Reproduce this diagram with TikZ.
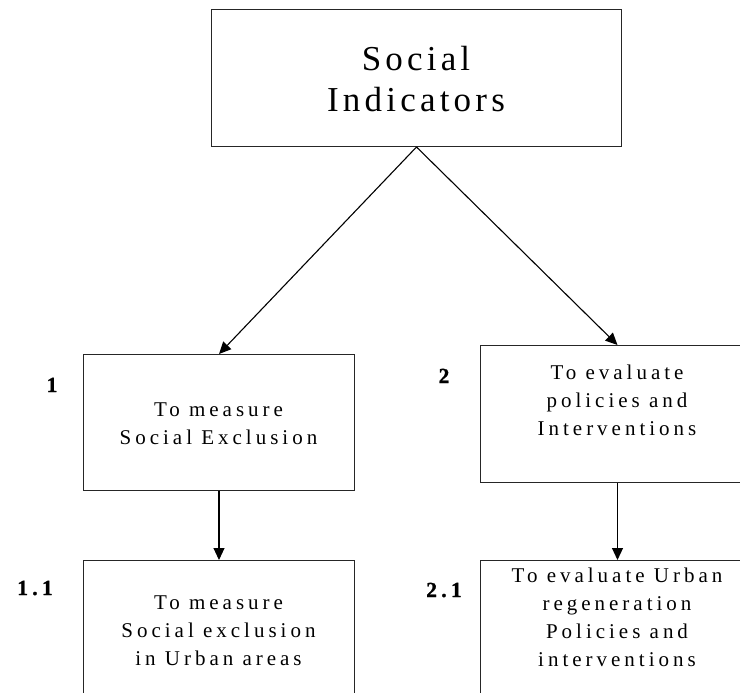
\documentclass[tikz,border=0pt]{standalone}
\usepackage{fontspec}
\setmainfont{Liberation Serif}
\newfontfamily\spacedbig[LetterSpace=12]{Liberation Serif}
\newfontfamily\spacedtxt[LetterSpace=19]{Liberation Serif}
\newfontfamily\spacedlbl[LetterSpace=20,FakeBold=1.2]{Liberation Serif Bold}
\usetikzlibrary{arrows.meta}
\begin{document}
\begin{tikzpicture}[x=1pt,y=-1pt,
  box/.style={draw=black!85,line width=1pt,inner sep=0pt,anchor=north west},
  txt/.style={align=center,inner sep=0pt,anchor=north,font=\spacedtxt\fontsize{21}{28}\selectfont},
  bigtxt/.style={align=center,inner sep=0pt,anchor=north,font=\spacedbig\fontsize{35}{41}\selectfont},
  lbl/.style={anchor=base,inner sep=0pt,font=\spacedlbl\fontsize{21.5}{24}\selectfont},
  arr/.style={draw=black,line width=1.1pt,-{Triangle[length=12pt,width=11pt]}}]
\useasboundingbox (0,0) rectangle (740,693);
\clip (0,0) rectangle (740,693);
% boxes
\node[box,minimum width=410pt,minimum height=137pt] (top) at (211,9) {};
\node[box,minimum width=271pt,minimum height=136pt] (b1) at (83,354) {};
\node[box,minimum width=274pt,minimum height=137pt] (b2) at (480,345) {};
\node[box,minimum width=271pt,minimum height=150pt] (b11) at (83,560) {};
\node[box,minimum width=274pt,minimum height=150pt] (b21) at (480,560) {};
% texts
\node[bigtxt] (ttop) at (416,46.3) {Social\\Indicators};
\node[txt] (t1) at (218.5,402.2) {To measure\\Social Exclusion};
\node[txt] (t2) at (617,364.7) {To evaluate\\policies and\\Interventions};
\node[txt] (t11) at (218.5,595.2) {To measure\\Social exclusion\\in Urban areas};
\node[txt] (t21) at (617,567.7) {To evaluate Urban\\regeneration\\Policies and\\interventions};
% labels
\node[lbl] (l1) at (52,392) {1};
\node[lbl] (l2) at (444,383) {2};
\node[lbl] (l11) at (35,595) {1.1};
\node[lbl] (l21) at (444,597) {2.1};
% connectors
\draw[arr] (top.south) -- (b1.north);
\draw[arr] (top.south) -- (b2.north);
\draw[arr] (b1.south) -- (b11.north);
\draw[arr] (b2.south) -- (b21.north);
\end{tikzpicture}
\end{document}
